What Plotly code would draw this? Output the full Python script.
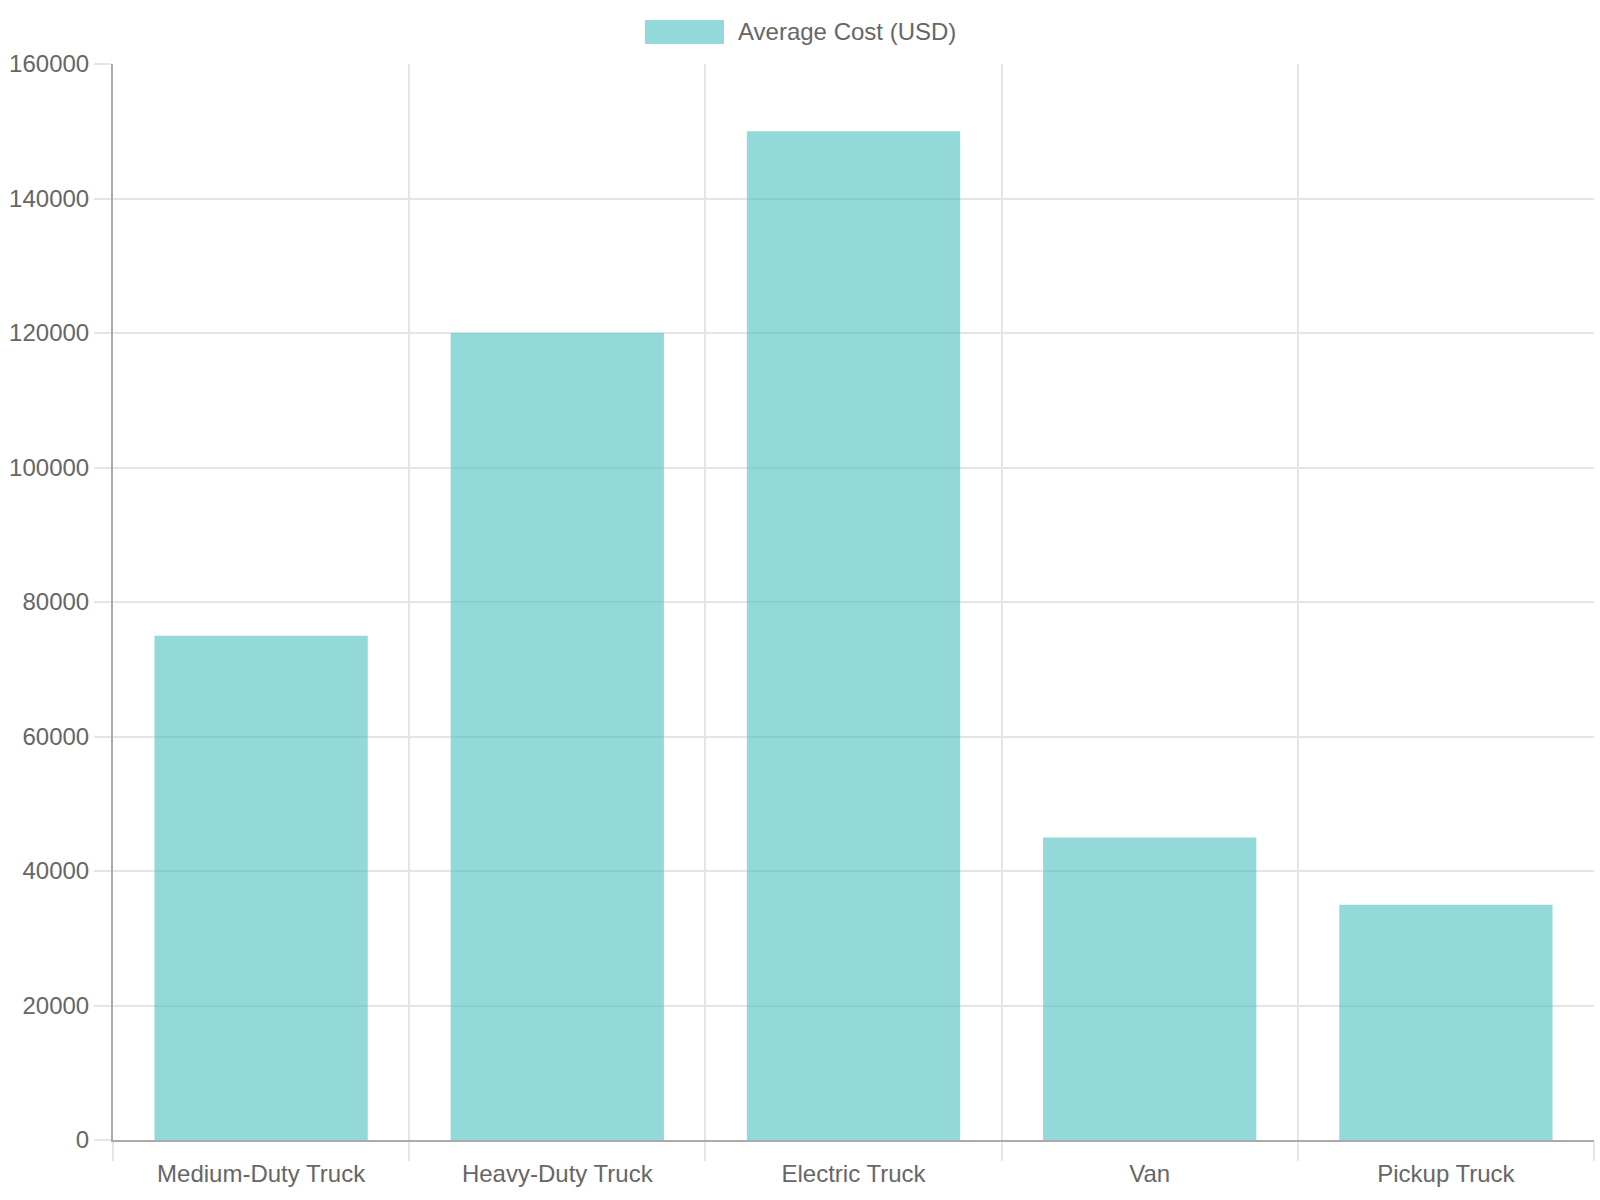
import plotly.graph_objects as go

categories = ["Medium-Duty Truck", "Heavy-Duty Truck", "Electric Truck", "Van", "Pickup Truck"]
avg_cost = [75000, 120000, 150000, 45000, 35000]
series_name = "Average Cost (USD)"
y_ticks = [0, 20000, 40000, 60000, 80000, 100000, 120000, 140000, 160000]

W, H = 1600, 1200
ML, MR, MT, MB = 113, 6, 64, 60
pw, ph = W - ML - MR, H - MT - MB

def px_x(x):
    return (x - ML) / pw

def px_y(y):
    return (H - MB - y) / ph

fill = "rgba(75,192,192,0.6)"
font_color = "#666666"
grid = "#e5e5e5"

fig = go.Figure(go.Bar(
    x=categories, y=avg_cost, name=series_name,
    marker=dict(color=fill, line=dict(width=0)),
    showlegend=False,
))

fig.update_layout(
    width=W, height=H,
    margin=dict(l=ML, r=MR, t=MT, b=MB),
    paper_bgcolor="white", plot_bgcolor="white",
    font=dict(family="Liberation Sans, Arial, sans-serif", size=24, color=font_color),
    bargap=0.28,
    xaxis=dict(
        showgrid=True, gridcolor=grid, gridwidth=1.5,
        tickson="boundaries", ticks="outside", ticklen=19, tickcolor=grid, tickwidth=1.5,
        ticklabelstandoff=11,
        showline=True, linecolor="#aaaaaa", linewidth=2,
        tickfont=dict(size=24, color=font_color),
    ),
    yaxis=dict(
        range=[0, 160000], tickvals=y_ticks, tickformat="d",
        showgrid=True, gridcolor=grid, gridwidth=1.5,
        ticks="outside", ticklen=17, tickcolor=grid, tickwidth=1.5,
        showline=True, linecolor="#aaaaaa", linewidth=2,
        zeroline=False,
        tickfont=dict(size=24, color=font_color),
    ),
    shapes=[dict(
        type="rect", xref="paper", yref="paper",
        x0=px_x(645), x1=px_x(724), y0=px_y(44), y1=px_y(20),
        fillcolor=fill, line=dict(width=0),
    )],
    annotations=[dict(
        text=series_name, xref="paper", yref="paper",
        x=px_x(736), y=px_y(32), xanchor="left", yanchor="middle",
        showarrow=False, font=dict(size=24, color=font_color),
    )],
)

fig.write_html("out.html")
